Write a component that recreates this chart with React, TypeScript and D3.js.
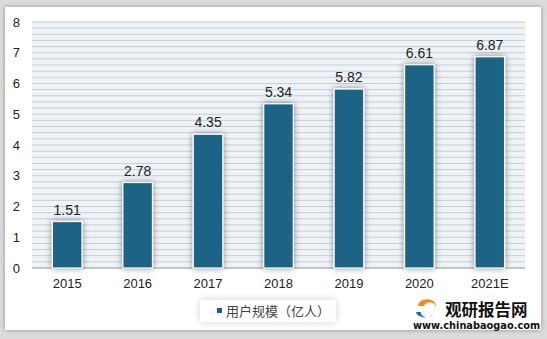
import React from "react";
import * as d3 from "d3";

const categories = ["2015", "2016", "2017", "2018", "2019", "2020", "2021E"];
const values = [1.51, 2.78, 4.35, 5.34, 5.82, 6.61, 6.87];
const yTicks = [0, 1, 2, 3, 4, 5, 6, 7, 8];
const seriesName = "用户规模（亿人）";

export default function App() {
  const W = 547, H = 339;
  const left = 32, right = 525, top = 22, bottom = 268;
  const x = d3.scaleBand<string>().domain(categories).range([left, right]).paddingInner(0.58).paddingOuter(0.29);
  const y = d3.scaleLinear().domain([0, 8]).range([bottom, top]);
  const stripes = d3.range(0, 8.001, 0.2);
  const font = "Arial, 'Liberation Sans', sans-serif";
  return (
    <svg width={W} height={H} style={{ position: "absolute", left: 0, top: 0 }}>
      <defs>
        <filter id="sh" x="-50%" y="-50%" width="200%" height="200%">
          <feGaussianBlur in="SourceAlpha" stdDeviation="3" />
          <feComponentTransfer><feFuncA type="linear" slope="0.45" /></feComponentTransfer>
          <feMerge><feMergeNode /><feMergeNode in="SourceGraphic" /></feMerge>
        </filter>
        <filter id="card" x="-5%" y="-5%" width="110%" height="110%">
          <feGaussianBlur in="SourceAlpha" stdDeviation="2.5" />
          <feComponentTransfer><feFuncA type="linear" slope="0.35" /></feComponentTransfer>
          <feMerge><feMergeNode /><feMergeNode in="SourceGraphic" /></feMerge>
        </filter>
        <filter id="leg" x="-20%" y="-50%" width="140%" height="200%">
          <feGaussianBlur in="SourceAlpha" stdDeviation="4" />
          <feComponentTransfer><feFuncA type="linear" slope="0.18" /></feComponentTransfer>
          <feMerge><feMergeNode /><feMergeNode in="SourceGraphic" /></feMerge>
        </filter>
      </defs>
      <rect x={0} y={0} width={W} height={H} fill="#dcdcdc" />
      <rect x={5} y={7} width={536} height={323} fill="#ffffff" filter="url(#card)" />
      <rect x={left} y={top} width={right - left} height={bottom - top} fill="#eef3f8" />
      {stripes.map((s, i) => (
        <line key={i} x1={left} x2={right} y1={y(s)} y2={y(s)} stroke="#c9ced3" strokeWidth={1} />
      ))}
      <line x1={left} x2={right} y1={bottom} y2={bottom} stroke="#a6a6a6" strokeWidth={1} />
      {yTicks.map((t) => (
        <text key={t} x={20} y={y(t)} dy="0.35em" textAnchor="end" fontSize={13} fill="#222" fontFamily={font}>{t}</text>
      ))}
      {categories.map((c, i) => (
        <g key={c}>
          <rect x={x(c)!} y={y(values[i])} width={x.bandwidth()} height={bottom - y(values[i])}
            fill="#1b6386" stroke="#ffffff" strokeWidth={1.2} filter="url(#sh)" />
          <text x={x(c)! + x.bandwidth() / 2} y={y(values[i]) - 7} textAnchor="middle" fontSize={14} fill="#222" fontFamily={font}>
            {values[i].toFixed(2)}
          </text>
          <text x={x(c)! + x.bandwidth() / 2} y={288} textAnchor="middle" fontSize={13} fill="#222" fontFamily={font}>{c}</text>
        </g>
      ))}
      <rect x={200} y={300} width={136} height={22} fill="#ffffff" filter="url(#leg)" />
      <rect x={217} y={308} width={5} height={5} fill="#1b6386" />
      <text x={226} y={316} fontSize={13} fill="#444" fontFamily="'Noto Sans CJK SC', sans-serif">{seriesName}</text>
      <g>
        <path d="M418,306 a9,7 0 1,1 14,6 a6,5 0 1,0 -8,-6 z" fill="#f08a1c" />
        <path d="M416,312 a9,6 0 0,0 17,2 a6,4 0 0,1 -12,-2 z" fill="#1e6fb0" />
        <text x={445} y={316} fontSize={16.5} fontWeight="bold" fill="#111" fontFamily="'Noto Sans CJK SC', sans-serif">观研报告网</text>
        <text x={413} y={329} fontSize={9.8} fontWeight="bold" fill="#111" fontFamily="'DejaVu Sans', sans-serif">www.chinabaogao.com</text>
      </g>
    </svg>
  );
}
